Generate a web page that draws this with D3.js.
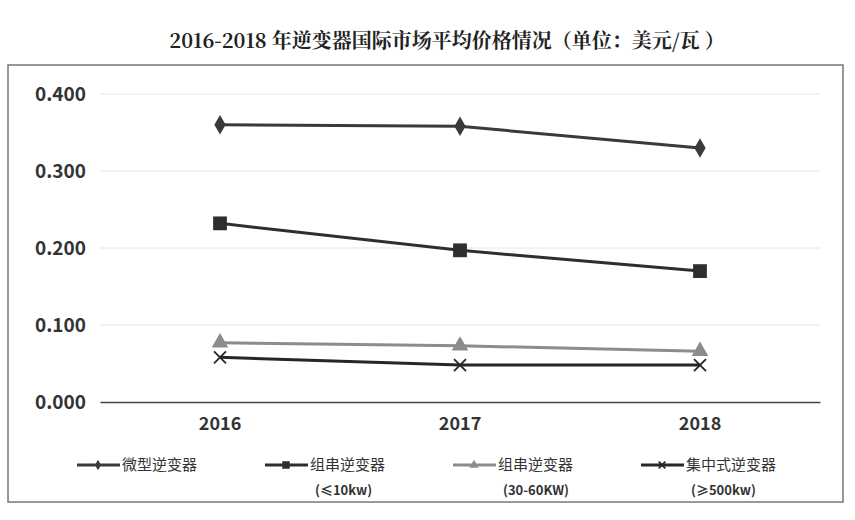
<!DOCTYPE html>
<html><head><meta charset="utf-8">
<script src="https://cdn.jsdelivr.net/npm/d3@7"></script>
<style>body{margin:0;background:#fff;}svg{display:block;}</style>
</head><body>
<svg id="c" width="855" height="520"></svg>
<script>
const years = ["2016","2017","2018"];
const seriesNames = ["微型逆变器","组串逆变器","组串逆变器","集中式逆变器"];
const seriesSub = ["","(≤10kw)","(30-60KW)","(≥500kw)"];
const micro = [0.360, 0.358, 0.330];
const string10 = [0.232, 0.197, 0.170];
const string3060 = [0.077, 0.073, 0.066];
const central = [0.058, 0.048, 0.048];
const yTicks = [0, 0.1, 0.2, 0.3, 0.4];
const title = "2016-2018 年逆变器国际市场平均价格情况（单位：美元/瓦 ）";

const series = [
  {name: seriesNames[0], sub: seriesSub[0], values: micro, color: "#3a3a3a", marker: "diamond"},
  {name: seriesNames[1], sub: seriesSub[1], values: string10, color: "#2e2e2e", marker: "square"},
  {name: seriesNames[2], sub: seriesSub[2], values: string3060, color: "#8c8c8c", marker: "triangle"},
  {name: seriesNames[3], sub: seriesSub[3], values: central, color: "#262626", marker: "x"}
];

const svg = d3.select("#c");
const font = "'Noto Sans CJK SC', 'Noto Sans', sans-serif";

// outer border
svg.append("rect").attr("x", 8).attr("y", 65).attr("width", 835).attr("height", 437)
  .attr("fill", "none").attr("stroke", "#777").attr("stroke-width", 1.5);

svg.append("text").attr("x", 447).attr("y", 48).attr("text-anchor", "middle")
  .attr("font-family", "'Noto Serif CJK SC', 'Noto Sans CJK SC', serif").attr("font-weight", "bold")
  .attr("font-size", 20).attr("fill", "#222").text(title);

const x = d3.scaleBand().domain(years).range([100, 820]);
const y = d3.scaleLinear().domain([0, 0.4]).range([402, 94]);

// gridlines
svg.append("g").selectAll("line").data(yTicks.filter(d => d > 0)).join("line")
  .attr("x1", 100).attr("x2", 820).attr("y1", d => y(d)).attr("y2", d => y(d))
  .attr("stroke", "#e6e6e6").attr("stroke-width", 1);

// y axis labels
const yAxis = svg.append("g").attr("transform", "translate(100,0)")
  .call(d3.axisLeft(y).tickValues(yTicks).tickFormat(d3.format(".3f")).tickSize(0).tickPadding(14));
yAxis.select(".domain").remove();
yAxis.selectAll("text").attr("font-family", font).attr("font-size", 19).attr("font-weight", "600").attr("fill", "#333");

// x axis
const xAxis = svg.append("g").attr("transform", "translate(0,402)")
  .call(d3.axisBottom(x).tickSize(0).tickPadding(15));
xAxis.select(".domain").attr("stroke", "#444").attr("stroke-width", 1.5);
xAxis.selectAll("text").attr("font-family", font).attr("font-size", 18).attr("font-weight", "600").attr("fill", "#333");

const cx = d => x(d) + x.bandwidth() / 2;
const line = d3.line().x((d, i) => cx(years[i])).y(d => y(d));

function drawMarker(g, type, px, py, color, s) {
  s = s || 1;
  if (type === "diamond") {
    g.append("path").attr("d", d3.symbol(d3.symbolDiamond, 110 * s)()).attr("transform", `translate(${px},${py})`).attr("fill", color);
  } else if (type === "square") {
    g.append("path").attr("d", d3.symbol(d3.symbolSquare, 190 * s)()).attr("transform", `translate(${px},${py})`).attr("fill", color);
  } else if (type === "triangle") {
    g.append("path").attr("d", d3.symbol(d3.symbolTriangle, 120 * s)()).attr("transform", `translate(${px},${py})`).attr("fill", color);
  } else {
    const r = 6 * Math.sqrt(s);
    g.append("path").attr("d", `M${px - r},${py - r}L${px + r},${py + r}M${px - r},${py + r}L${px + r},${py - r}`)
      .attr("stroke", color).attr("stroke-width", 1.8).attr("fill", "none");
  }
}

const plot = svg.append("g");
series.forEach(s => {
  plot.append("path").datum(s.values).attr("d", line).attr("fill", "none")
    .attr("stroke", s.color).attr("stroke-width", 3);
  s.values.forEach((v, i) => drawMarker(plot, s.marker, cx(years[i]), y(v), s.color));
});

// legend
const lx = d3.scaleBand().domain(d3.range(series.length)).range([77, 829]);
const leg = svg.append("g");
series.forEach((s, i) => {
  const x0 = lx(i);
  leg.append("line").attr("x1", x0).attr("x2", x0 + 43).attr("y1", 465).attr("y2", 465)
    .attr("stroke", s.color).attr("stroke-width", 3);
  drawMarker(leg, s.marker, x0 + 21, 465, s.color, 0.3);
  leg.append("text").attr("x", x0 + 45).attr("y", 470).attr("font-family", font)
    .attr("font-size", 15).attr("fill", "#333").text(s.name);
  if (s.sub) leg.append("text").attr("x", x0 + 50).attr("y", 495).attr("font-family", font)
    .attr("font-size", 13).attr("font-weight", "600").attr("fill", "#333").text(s.sub);
});
</script>
</body></html>
